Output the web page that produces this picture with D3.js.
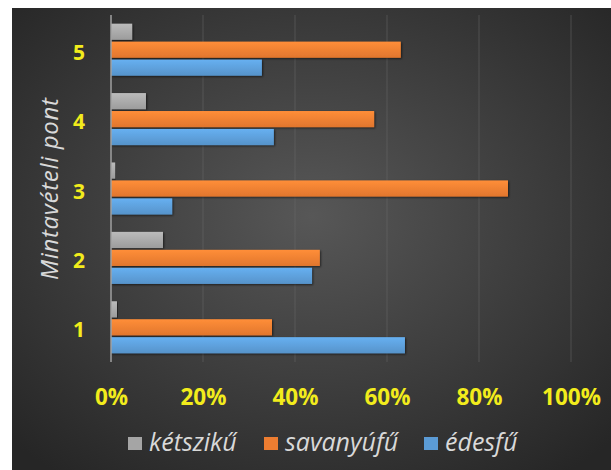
<!DOCTYPE html>
<html><head><meta charset="utf-8">
<script src="https://cdn.jsdelivr.net/npm/d3@7"></script>
<style>html,body{margin:0;padding:0;background:#fff;}svg{display:block;}</style>
</head><body>
<script>
const categories = ["1","2","3","4","5"];
const seriesNames = ["kétszikű","savanyúfű","édesfű"];
const ketsziku = [0.013,0.113,0.009,0.076,0.046];
const savanyufu = [0.35,0.454,0.863,0.572,0.63];
const edesfu = [0.639,0.437,0.133,0.354,0.328];
const xTicks = [0,0.2,0.4,0.6,0.8,1.0];
const colors = ["#a5a5a5","#ed7d31","#5b9bd5"];

const W=611,H=470;
const svg=d3.select("body").append("svg").attr("width",W).attr("height",H);
const defs=svg.append("defs");
const rg=defs.append("radialGradient").attr("id","bg").attr("cx","50%").attr("cy","45%").attr("r","70%");
rg.append("stop").attr("offset","0%").attr("stop-color","#575757");
rg.append("stop").attr("offset","100%").attr("stop-color","#262626");
colors.forEach((c,i)=>{
  const g=defs.append("linearGradient").attr("id","g"+i).attr("x1",0).attr("y1",0).attr("x2",0).attr("y2",1);
  g.append("stop").attr("offset","0%").attr("stop-color",d3.color(c).brighter(0.35));
  g.append("stop").attr("offset","100%").attr("stop-color",d3.color(c).darker(0.15));
});
const f=defs.append("filter").attr("id","sh").attr("x","-5%").attr("y","-20%").attr("width","115%").attr("height","160%");
f.append("feDropShadow").attr("dx",1).attr("dy",1).attr("stdDeviation",1).attr("flood-color","#000").attr("flood-opacity",0.6);

svg.append("rect").attr("x",12).attr("y",8).attr("width",W-12).attr("height",H-8).attr("fill","url(#bg)");

const x=d3.scaleLinear().domain([0,1]).range([111,571]);
const y=d3.scaleBand().domain(categories.slice().reverse()).range([15,362]).paddingInner(0.25).paddingOuter(0.125);
const sub=d3.scaleBand().domain(seriesNames).range([0,y.bandwidth()]).paddingInner(0.1);

// gridlines
svg.append("g").selectAll("line").data(xTicks.slice(1)).join("line")
  .attr("x1",d=>x(d)).attr("x2",d=>x(d)).attr("y1",15).attr("y2",362)
  .attr("stroke","#6a6a6a").attr("stroke-width",1).attr("opacity",0.5);

const data=[ketsziku,savanyufu,edesfu];
categories.forEach((c,ci)=>{
  seriesNames.forEach((s,si)=>{
    svg.append("rect").attr("x",x(0)).attr("y",y(c)+sub(s))
      .attr("width",x(data[si][ci])-x(0)).attr("height",sub.bandwidth())
      .attr("fill","url(#g"+si+")").attr("filter","url(#sh)");
  });
});

// axis line
svg.append("line").attr("x1",x(0)).attr("x2",x(0)).attr("y1",15).attr("y2",362).attr("stroke","#a0a0a0").attr("stroke-width",1.5);

// y tick labels
const yAxis=svg.append("g").attr("transform",`translate(${x(0)},0)`).call(d3.axisLeft(y).tickSize(0).tickPadding(26));
yAxis.select(".domain").remove();
yAxis.selectAll("text").attr("fill","#f2ec1c").attr("dy","0.48em").style("font-family","Open Sans, sans-serif").style("font-weight","bold").style("font-size","21px");

// x tick labels
const xAxis=svg.append("g").attr("transform","translate(0,0)").call(d3.axisBottom(x).tickValues(xTicks).tickFormat(d3.format(".0%")).tickSize(0));
xAxis.select(".domain").remove();
xAxis.selectAll("text").attr("y",405).attr("dy",0).attr("fill","#f2ec1c").style("font-family","Open Sans, sans-serif").style("font-weight","bold").style("font-size","22.5px");

// y title
svg.append("text").attr("transform","translate(58,189) rotate(-90)").attr("text-anchor","middle")
  .attr("textLength",182).attr("lengthAdjust","spacing")
  .attr("fill","#d9d9d9").style("font-family","Open Sans, sans-serif").style("font-style","italic").style("font-size","24px")
  .text("Mintavételi pont");

// legend
const legX=[128,264,424];
seriesNames.forEach((s,i)=>{
  svg.append("rect").attr("x",legX[i]).attr("y",437).attr("width",14).attr("height",13).attr("fill",colors[i]);
  svg.append("text").attr("x",legX[i]+21).attr("y",451).attr("fill","#d9d9d9")
    .style("font-family","Open Sans, sans-serif").style("font-style","italic").style("font-size","25px").text(s);
});
</script>
</body></html>
